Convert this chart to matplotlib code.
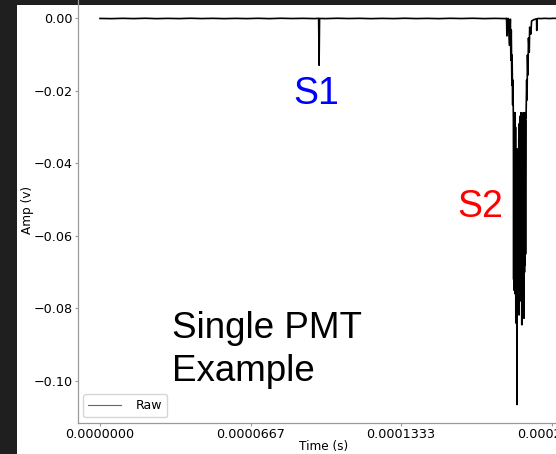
import matplotlib
matplotlib.use("Agg")
import matplotlib.pyplot as plt
from matplotlib.patches import Rectangle
import numpy as np

# ---- data ----
# time in microseconds, amplitude in millivolts
baseline1_t = [0, 5, 10, 15, 20, 25, 30, 35, 40, 45, 50, 55, 60, 65, 70, 75, 80, 85, 90, 95]
baseline1_a = [0.0, -0.05, 0.03, -0.04, 0.05, -0.05, 0.02, -0.04, 0.05, -0.03, 0.03, -0.05, 0.02, -0.04, 0.04, -0.05, 0.05, -0.02, 0.03, -0.04]
s1_t = [96.8, 97.0, 97.2]
s1_a = [0.03, -12.9, 0.0]
baseline2_t = [100, 105, 110, 115, 120, 125, 130, 135, 140, 145, 150, 155, 160, 165, 170, 175, 179.5, 180.0, 180.15, 180.3, 180.6]
baseline2_a = [-0.04, 0.05, -0.02, 0.03, -0.05, 0.02, -0.04, 0.05, -0.03, 0.02, -0.05, 0.04, -0.02, 0.05, -0.04, 0.02, -0.04, 0.03, -4.8, -0.1, -0.05]
s2_fall_t = [180.80, 181.24, 181.69, 181.91, 182.08, 182.35, 182.44, 182.71, 182.80, 183.02]
s2_fall_a = [0.0, -7.4, -0.2, -11.5, -3.2, -18.4, -10.1, -23.9, -17.0, -27.5]
s2_core_t = [183.14, 183.26, 183.38, 183.50, 183.62, 183.74, 183.86, 183.98, 184.10, 184.22,
             184.34, 184.46, 184.58, 184.70, 184.82, 184.94, 185.06, 185.18, 185.30, 185.42,
             185.54, 185.66, 185.78, 185.90, 186.02, 186.14, 186.26, 186.38, 186.50, 186.62,
             186.74, 186.86, 186.98, 187.10, 187.22, 187.34, 187.46, 187.58, 187.70, 187.82,
             187.94, 188.06, 188.18, 188.30, 188.42, 188.54]
s2_core_a = [-72, -27, -75, -28, -74, -26, -76, -30, -84, -40,
             -74, -44, -106.5, -36, -73, -45, -77, -42, -72, -33,
             -81.8, -29, -71, -27, -76, -30, -70, -26, -78, -28,
             -84.5, -27, -71, -29, -70, -26, -72, -28, -82.7, -27,
             -70, -26, -68, -28, -65, -27]
s2_rise_t = [188.63, 188.90, 189.08, 189.25, 189.48, 189.70, 190.05, 190.23, 190.76, 191.07,
             192.18, 193.28, 193.37, 193.46, 193.94]
s2_rise_a = [-27.5, -17.0, -22.5, -10.1, -15.6, -5.4, -9.3, -2.4, -4.3, -0.7,
             -0.3, -0.1, -3.3, -0.1, 0.0]
tail_t = [195, 197, 199, 201, 203, 205]
tail_a = [-0.04, 0.03, -0.03, 0.04, -0.04, 0.02]

x_ticks = [0.0, 6.667e-5, 1.3333e-4, 2.0e-4]
x_tick_labels = ["0.0000000", "0.0000667", "0.0001333", "0.0002000"]
y_ticks = [-0.10, -0.08, -0.06, -0.04, -0.02, 0.00]
y_tick_labels = ["\u22120.10", "\u22120.08", "\u22120.06", "\u22120.04", "\u22120.02", "0.00"]

time_s = np.array(baseline1_t + s1_t + baseline2_t + s2_fall_t + s2_core_t + s2_rise_t + tail_t) * 1e-6
amp_v = np.array(baseline1_a + s1_a + baseline2_a + s2_fall_a + s2_core_a + s2_rise_a + tail_a) * 1e-3

# ---- figure ----
W, H = 556, 454
fig = plt.figure(figsize=(W / 100, H / 100), dpi=100)
fig.patch.set_facecolor('#1f1f1f')
fig.add_artist(Rectangle((17 / W, 0), 1, (H - 5) / H, transform=fig.transFigure,
                         facecolor='white', edgecolor='none', zorder=-10))

ax = fig.add_axes([77.7 / W, 31 / H, 492.1 / W, 426.3 / H])
ax.patch.set_visible(False)

ax.plot(time_s, amp_v, color='black', lw=1.2, label='Raw')

ax.set_xlim(-9.88e-6, 2.08e-4)
ax.set_ylim(-0.1116, 0.006)
ax.set_xticks(x_ticks)
ax.set_xticklabels(x_tick_labels)
ax.set_yticks(y_ticks)
ax.set_yticklabels(y_tick_labels)

for s in ax.spines.values():
    s.set_color('#9a9a9a')
    s.set_linewidth(0.9)
ax.tick_params(length=2.0, width=0.8, color='#9a9a9a', pad=1.6, labelsize=9.2, labelcolor='black')

ax.set_xlabel('Time (s)', fontsize=8.7)
ax.set_ylabel('Amp (v)', fontsize=8.7)
ax.xaxis.set_label_coords(0.5, -0.04)
ax.yaxis.set_label_coords(-0.089, 0.5)

leg = ax.legend(loc='lower left', fontsize=9, frameon=True, fancybox=True,
                borderaxespad=0.45, handlelength=2.6, handletextpad=1.2)
leg.get_frame().set_edgecolor('#cccccc')
leg.get_lines()[0].set_color('#666666')
leg.get_lines()[0].set_linewidth(0.8)

ax.text(0.4846, 0.7479, 'S1', transform=ax.transAxes, color='blue', fontsize=27,
        family='Liberation Sans', ha='center', va='baseline')
ax.text(0.818, 0.483, 'S2', transform=ax.transAxes, color='red', fontsize=27,
        family='Liberation Sans', ha='center', va='baseline')
ax.text(0.1917, 0.0985, 'Single PMT\nExample', transform=ax.transAxes, color='black',
        fontsize=26.5, family='Liberation Sans', ha='left', va='baseline', linespacing=1.3)

fig.savefig('out.png', dpi=100)
